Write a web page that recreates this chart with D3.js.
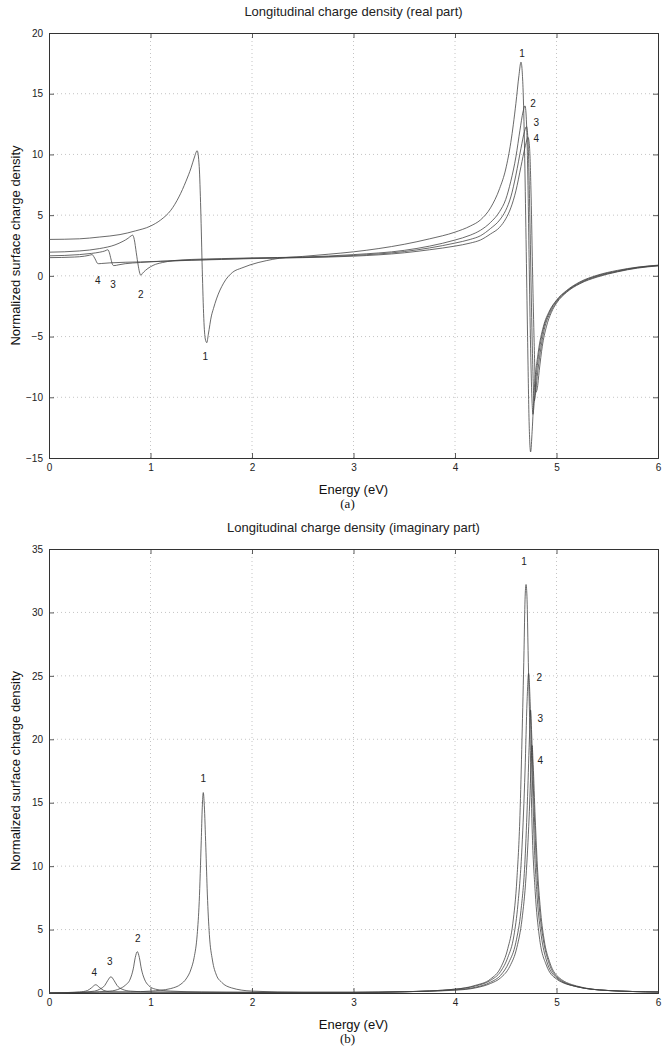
<!DOCTYPE html>
<html><head><meta charset="utf-8">
<script src="https://cdn.jsdelivr.net/npm/d3@7"></script>
<style>body{margin:0;background:#fff}svg{display:block}</style>
</head><body>
<svg id="c" width="667" height="1050"></svg>
<script>
// ---- tick labels ----
const energyTicks = [0, 1, 2, 3, 4, 5, 6];
const realTicks = [-15, -10, -5, 0, 5, 10, 15, 20];
const imagTicks = [0, 5, 10, 15, 20, 25, 30, 35];

// ---- real part series [energy eV, value] ----
const real1 = [[0,3.0],[0.3,3.05],[0.5,3.2],[0.7,3.4],[0.85,3.7],[1.0,4.1],[1.1,4.6],[1.2,5.4],[1.28,6.5],[1.35,7.8],[1.40,8.9],[1.43,9.7],[1.46,10.3],[1.48,9.0],[1.495,5.5],[1.51,0.5],[1.525,-3.5],[1.54,-5.2],[1.555,-5.5],[1.57,-4.8],[1.6,-3.3],[1.62,-2.7],[1.65,-1.9],[1.72,-0.6],[1.81,0.3],[1.9,0.65],[1.98,0.9],[2.14,1.25],[2.27,1.45],[2.5,1.6],[2.75,1.78],[3.0,1.98],[3.25,2.25],[3.5,2.6],[3.75,3.05],[4.0,3.6],[4.15,4.1],[4.25,4.6],[4.35,5.6],[4.44,7.2],[4.5,8.8],[4.55,11.0],[4.6,14.2],[4.63,16.5],[4.65,17.6],[4.67,15.5],[4.685,10.5],[4.70,3.0],[4.715,-5],[4.73,-12],[4.745,-14.5],[4.76,-12.8],[4.78,-9.5],[4.82,-6.3],[4.87,-4.2],[4.93,-2.9],[5.0,-2.0],[5.1,-1.2],[5.23,-0.5],[5.4,0.05],[5.6,0.45],[5.8,0.72],[6.0,0.88]];
const real2 = [[0,1.95],[0.3,2.05],[0.5,2.25],[0.65,2.55],[0.73,2.85],[0.78,3.1],[0.81,3.3],[0.825,3.35],[0.84,3.0],[0.86,1.9],[0.88,0.8],[0.895,0.2],[0.905,0.05],[0.92,0.2],[0.95,0.45],[1.0,0.75],[1.05,0.95],[1.12,1.1],[1.22,1.25],[1.4,1.35],[1.7,1.42],[2.0,1.48],[2.5,1.55],[3.0,1.75],[3.5,2.1],[3.75,2.45],[4.0,2.95],[4.15,3.35],[4.25,3.75],[4.35,4.4],[4.44,5.3],[4.5,6.3],[4.55,7.8],[4.6,9.8],[4.64,12.0],[4.67,13.5],[4.69,14.0],[4.705,12.5],[4.72,7],[4.73,1.5],[4.745,-6],[4.76,-10.5],[4.768,-11.4],[4.78,-10.5],[4.8,-8.3],[4.83,-6.2],[4.87,-4.4],[4.93,-3.0],[5.0,-2.05],[5.1,-1.25],[5.23,-0.55],[5.4,0.0],[5.6,0.4],[5.8,0.7],[6.0,0.86]];
const real3 = [[0,1.65],[0.3,1.75],[0.42,1.85],[0.5,1.95],[0.55,2.05],[0.58,2.15],[0.595,1.9],[0.61,1.4],[0.625,0.95],[0.635,0.85],[0.65,0.85],[0.68,0.9],[0.75,1.0],[0.9,1.1],[1.1,1.2],[1.4,1.3],[1.7,1.38],[2.0,1.45],[2.5,1.52],[3.0,1.68],[3.5,2.0],[3.75,2.3],[4.0,2.7],[4.15,3.0],[4.25,3.3],[4.35,3.9],[4.44,4.6],[4.5,5.4],[4.55,6.5],[4.6,8.3],[4.65,10.5],[4.685,11.9],[4.705,12.3],[4.72,11.0],[4.735,6],[4.75,-1],[4.765,-7],[4.78,-10.3],[4.795,-9.6],[4.81,-8.3],[4.84,-6.3],[4.88,-4.4],[4.94,-3.0],[5.0,-2.15],[5.1,-1.3],[5.23,-0.6],[5.4,-0.05],[5.6,0.36],[5.8,0.67],[6.0,0.84]];
const real4 = [[0,1.5],[0.25,1.55],[0.35,1.62],[0.4,1.7],[0.425,1.75],[0.44,1.6],[0.46,1.3],[0.475,1.05],[0.49,1.0],[0.52,1.02],[0.6,1.07],[0.75,1.12],[0.9,1.15],[1.1,1.2],[1.4,1.28],[1.7,1.35],[2.0,1.42],[2.5,1.5],[3.0,1.62],[3.5,1.9],[3.75,2.15],[4.0,2.45],[4.15,2.7],[4.25,2.95],[4.35,3.45],[4.44,4.0],[4.5,4.7],[4.55,5.6],[4.6,7.0],[4.65,9.0],[4.69,10.6],[4.72,11.4],[4.735,10.5],[4.75,6.5],[4.765,0],[4.78,-5.5],[4.795,-9.6],[4.81,-9.3],[4.83,-7.8],[4.86,-5.8],[4.9,-4.2],[4.95,-3.0],[5.0,-2.25],[5.1,-1.35],[5.23,-0.65],[5.4,-0.1],[5.6,0.33],[5.8,0.64],[6.0,0.82]];

// ---- imaginary part series ----
const imag1 = [[0,0.02],[0.5,0.05],[0.8,0.08],[1.0,0.15],[1.1,0.22],[1.2,0.35],[1.3,0.7],[1.35,1.1],[1.4,1.9],[1.43,2.8],[1.46,4.6],[1.48,7.2],[1.50,12.0],[1.51,14.6],[1.52,15.8],[1.53,14.8],[1.545,11.5],[1.56,7.8],[1.58,4.6],[1.61,2.6],[1.65,1.4],[1.7,0.85],[1.8,0.4],[2.0,0.15],[2.5,0.05],[3.0,0.05],[3.5,0.1],[4.0,0.3],[4.2,0.6],[4.35,1.1],[4.45,2.0],[4.52,3.5],[4.57,5.5],[4.61,9],[4.64,14],[4.66,20],[4.68,27],[4.69,31],[4.70,32.2],[4.71,31],[4.72,27],[4.74,20],[4.76,13],[4.79,8],[4.83,4.5],[4.9,2.2],[5.0,1.1],[5.2,0.5],[5.5,0.2],[6.0,0.08]];
const imag2 = [[0,0.0],[0.3,0.05],[0.6,0.15],[0.7,0.35],[0.75,0.6],[0.8,1.1],[0.83,1.9],[0.85,2.8],[0.87,3.26],[0.89,2.8],[0.91,1.9],[0.94,1.1],[0.98,0.6],[1.05,0.3],[1.2,0.15],[1.5,0.08],[2.0,0.05],[3.0,0.05],[3.5,0.1],[4.0,0.3],[4.2,0.55],[4.35,1.0],[4.45,1.7],[4.52,2.8],[4.58,4.5],[4.62,7],[4.66,11.5],[4.69,17.5],[4.71,23],[4.725,25.2],[4.74,23],[4.76,17.5],[4.78,12],[4.81,7.5],[4.85,4.5],[4.9,2.6],[5.0,1.2],[5.2,0.5],[5.5,0.2],[6.0,0.08]];
const imag3 = [[0,0],[0.3,0.05],[0.45,0.15],[0.5,0.3],[0.55,0.6],[0.58,1.0],[0.61,1.28],[0.64,1.0],[0.67,0.6],[0.72,0.3],[0.8,0.15],[1.0,0.08],[2.0,0.05],[3.0,0.05],[3.5,0.1],[4.0,0.25],[4.2,0.45],[4.35,0.85],[4.45,1.4],[4.53,2.4],[4.6,4],[4.65,6.5],[4.69,10.5],[4.715,15.5],[4.735,20.5],[4.745,22.3],[4.755,20.5],[4.775,15.5],[4.8,10.5],[4.83,6.8],[4.87,4.2],[4.92,2.5],[5.0,1.3],[5.2,0.5],[5.5,0.2],[6.0,0.08]];
const imag4 = [[0,0],[0.3,0.08],[0.38,0.2],[0.42,0.42],[0.46,0.65],[0.5,0.42],[0.54,0.2],[0.6,0.1],[1.0,0.06],[2.0,0.05],[3.0,0.05],[3.5,0.1],[4.0,0.22],[4.2,0.4],[4.35,0.75],[4.45,1.2],[4.54,2.1],[4.61,3.6],[4.66,5.8],[4.7,9.2],[4.73,13.8],[4.75,18],[4.76,19.5],[4.77,18],[4.79,13.8],[4.815,9.5],[4.845,6.3],[4.88,4.1],[4.93,2.5],[5.0,1.4],[5.2,0.55],[5.5,0.2],[6.0,0.08]];

// ---- curve labels [text, energy, value] ----
const realLabels = [["1",4.66,18.3],["2",4.77,14.2],["3",4.80,12.6],["4",4.80,11.3],["4",0.48,-0.4],["3",0.63,-0.75],["2",0.905,-1.5],["1",1.54,-6.6]];
const imagLabels = [["1",4.68,34.0],["2",4.83,24.9],["3",4.84,21.6],["4",4.84,18.3],["1",1.52,16.9],["2",0.875,4.3],["3",0.60,2.5],["4",0.445,1.6]];

const svg = d3.select("#c");
const SANS = "'Liberation Sans', Arial, Helvetica, sans-serif";
const SERIF = "'Liberation Serif', 'Times New Roman', serif";
const L = 49, R = 658;

function panel(opt) {
  const x = d3.scaleLinear().domain([0, 6]).range([L, R]);
  const y = d3.scaleLinear().domain(opt.domain).range([opt.bottom, opt.top]);
  const g = svg.append("g");
  // grid
  g.append("g").selectAll("line").data(energyTicks.slice(1, -1)).join("line")
    .attr("x1", d => x(d)).attr("x2", d => x(d)).attr("y1", opt.top).attr("y2", opt.bottom)
    .attr("stroke", "#b5b5b5").attr("stroke-width", 0.8).attr("stroke-dasharray", "1,3");
  g.append("g").selectAll("line").data(opt.ticks.slice(1, -1)).join("line")
    .attr("x1", L).attr("x2", R).attr("y1", d => y(d)).attr("y2", d => y(d))
    .attr("stroke", "#b5b5b5").attr("stroke-width", 0.8).attr("stroke-dasharray", "1,3");
  // axes
  const ax = g.append("g").attr("transform", `translate(0,${opt.bottom})`)
    .call(d3.axisBottom(x).tickValues(energyTicks).tickSize(-5).tickPadding(6).tickFormat(d3.format("d")));
  const axT = g.append("g").attr("transform", `translate(0,${opt.top})`)
    .call(d3.axisTop(x).tickValues(energyTicks).tickSize(-5).tickFormat(""));
  const ay = g.append("g").attr("transform", `translate(${L},0)`)
    .call(d3.axisLeft(y).tickValues(opt.ticks).tickSize(-5).tickPadding(6).tickFormat(d => d < 0 ? "\u2212" + Math.abs(d) : d));
  const ayR = g.append("g").attr("transform", `translate(${R},0)`)
    .call(d3.axisRight(y).tickValues(opt.ticks).tickSize(-5).tickFormat(""));
  [ax, axT, ay, ayR].forEach(a => {
    a.select(".domain").attr("stroke", "#333").attr("stroke-width", 1);
    a.selectAll(".tick line").attr("stroke", "#333").attr("stroke-width", 0.8);
    a.selectAll("text").attr("font-family", SANS).attr("font-size", 10).attr("fill", "#222");
  });
  // lines
  const line = d3.line().x(d => x(d[0])).y(d => y(d[1])).curve(d3.curveMonotoneX);
  g.append("g").selectAll("path").data(opt.series).join("path")
    .attr("d", line).attr("fill", "none").attr("stroke", "#444").attr("stroke-width", 0.8);
  // labels
  g.append("g").selectAll("text").data(opt.labels).join("text")
    .attr("x", d => x(d[1])).attr("y", d => y(d[2])).attr("dy", "0.35em")
    .attr("text-anchor", "middle").attr("font-family", SANS).attr("font-size", 10).attr("fill", "#222")
    .text(d => d[0]);
  // title
  svg.append("text").attr("x", (L + R) / 2).attr("y", opt.top - 17)
    .attr("text-anchor", "middle").attr("font-family", SANS).attr("font-size", 13).attr("fill", "#222")
    .text(opt.title);
  svg.append("text").attr("x", (L + R) / 2).attr("y", opt.bottom + 36)
    .attr("text-anchor", "middle").attr("font-family", SANS).attr("font-size", 13).attr("fill", "#111")
    .text("Energy (eV)");
  svg.append("text").attr("x", (L + R) / 2 - 6).attr("y", opt.bottom + 50)
    .attr("text-anchor", "middle").attr("font-family", SERIF).attr("font-size", 13).attr("fill", "#111")
    .text(opt.tag);
  svg.append("text").attr("transform", `translate(20,${(opt.top + opt.bottom) / 2}) rotate(-90)`)
    .attr("text-anchor", "middle").attr("font-family", SANS).attr("font-size", 13).attr("fill", "#111")
    .text("Normalized surface charge density");
}

panel({top: 33, bottom: 458, domain: [-15, 20], ticks: realTicks,
  series: [real1, real2, real3, real4], labels: realLabels,
  title: "Longitudinal charge density (real part)", tag: "(a)"});
panel({top: 549, bottom: 993, domain: [0, 35], ticks: imagTicks,
  series: [imag1, imag2, imag3, imag4], labels: imagLabels,
  title: "Longitudinal charge density (imaginary part)", tag: "(b)"});
</script>
</body></html>
